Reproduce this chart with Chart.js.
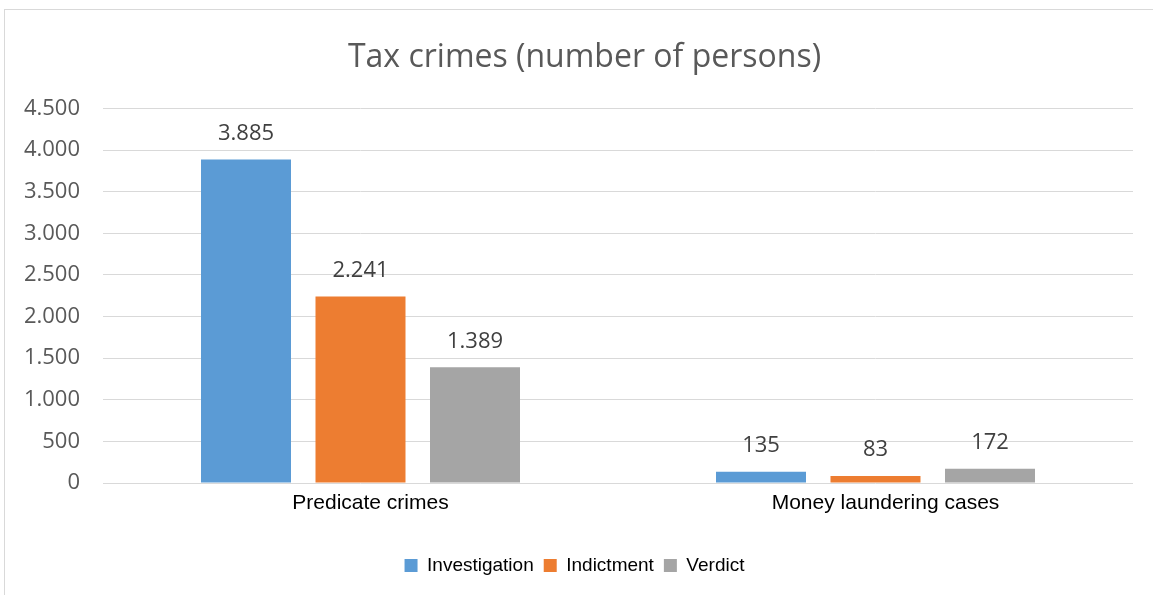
<!DOCTYPE html>
<html>
<head>
<meta charset="utf-8">
<script src="https://cdn.jsdelivr.net/npm/chart.js@4.4.1/dist/chart.umd.min.js"></script>
<style>
  html, body { margin: 0; padding: 0; background: #fff; overflow: hidden; }
  #frame { position: absolute; left: 4px; top: 9px; width: 1200px; height: 640px; border: 1px solid #d9d9d9; }
  #wrap { position: absolute; left: 0; top: 0; width: 1153px; height: 595px; }
</style>
</head>
<body>
<div id="frame"></div>
<div id="wrap"><canvas id="chart"></canvas></div>
<script>
const categories = ['Predicate crimes', 'Money laundering cases'];
const investigation = [3885, 135];
const indictment = [2241, 83];
const verdict = [1389, 172];
const yTicks = [0, 500, 1000, 1500, 2000, 2500, 3000, 3500, 4000, 4500];

// thousands separator with a dot
function fmt(v) {
    return String(v).replace(/\B(?=(\d{3})+(?!\d))/g, '.');
}

// draws the value above each bar
const valueLabels = {
    id: 'valueLabels',
    afterDatasetsDraw(chart) {
        const ctx = chart.ctx;
        ctx.save();
        ctx.font = '22px "Open Sans", sans-serif';
        ctx.fillStyle = '#404040';
        ctx.textAlign = 'center';
        ctx.textBaseline = 'middle';
        chart.data.datasets.forEach((ds, i) => {
            chart.getDatasetMeta(i).data.forEach((bar, j) => {
                ctx.fillText(fmt(ds.data[j]), bar.x, bar.y - 26);
            });
        });
        ctx.restore();
    }
};

// title and legend sit centred on the outer frame, not on the plot
const nudgeBoxes = {
    id: 'nudgeBoxes',
    afterLayout(chart) {
        if (chart.titleBlock) {
            chart.titleBlock.left += 18;
            chart.titleBlock.right += 18;
        }
        if (chart.legend) {
            chart.legend.left += 8;
            chart.legend.right += 8;
            chart.legend.legendHitBoxes.forEach(b => { b.left += 8; });
        }
    }
};

new Chart(document.getElementById('chart'), {
    type: 'bar',
    data: {
        labels: categories,
        datasets: [
            { label: 'Investigation', data: investigation, backgroundColor: '#5B9BD5' },
            { label: 'Indictment', data: indictment, backgroundColor: '#ED7D31' },
            { label: 'Verdict', data: verdict, backgroundColor: '#A5A5A5' }
        ]
    },
    options: {
        responsive: true,
        maintainAspectRatio: false,
        animation: false,
        layout: { padding: { top: 0, right: 20, bottom: 10, left: 0 } },
        datasets: {
            bar: { categoryPercentage: 0.667, barPercentage: 0.786 }
        },
        plugins: {
            title: {
                display: true,
                text: 'Tax crimes (number of persons)',
                color: '#595959',
                font: { family: '"Open Sans", sans-serif', size: 32, weight: 'normal' },
                padding: { top: 39, bottom: 31 }
            },
            legend: {
                position: 'bottom',
                labels: {
                    boxWidth: 13,
                    boxHeight: 13,
                    color: '#000',
                    font: { family: '"Liberation Sans", Arial, sans-serif', size: 19 },
                    padding: 10
                }
            },
            tooltip: { enabled: false }
        },
        scales: {
            x: {
                grid: { display: false, drawTicks: false },
                border: { display: false },
                ticks: {
                    color: '#000',
                    padding: 8,
                    labelOffset: 10,
                    font: { family: '"Liberation Sans", Arial, sans-serif', size: 21 }
                },
                afterFit(scale) { scale.height = 63; }
            },
            y: {
                min: 0,
                max: 4500,
                afterBuildTicks(scale) { scale.ticks = yTicks.map(v => ({ value: v })); },
                grid: { color: '#d9d9d9', drawTicks: false },
                border: { display: false },
                ticks: {
                    color: '#595959',
                    padding: 23,
                    font: { family: '"Open Sans", sans-serif', size: 22 },
                    callback: (v) => fmt(v)
                },
                afterFit(scale) { scale.width = 103; }
            }
        }
    },
    plugins: [valueLabels, nudgeBoxes]
});
</script>
</body>
</html>
